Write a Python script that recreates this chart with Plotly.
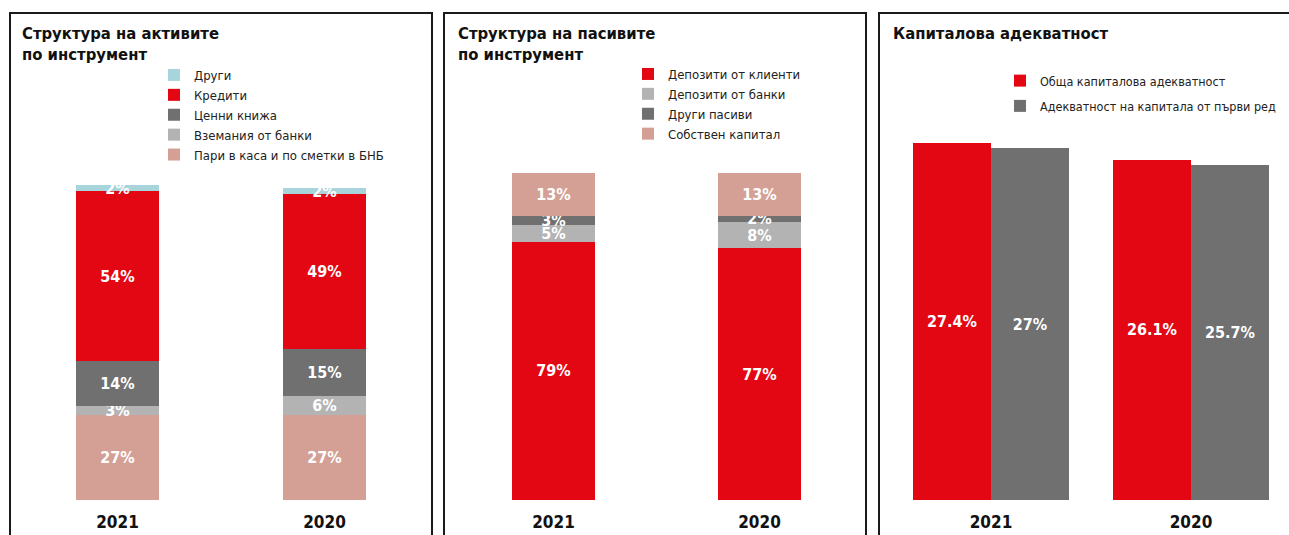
import plotly.graph_objects as go

# ---- data -------------------------------------------------------------
years = ["2021", "2020"]

# Assets structure by instrument (%), bottom to top of the stack
assets_cash_bnb = [27, 27]
assets_bank_receivables = [3, 6]
assets_securities = [14, 15]
assets_loans = [54, 49]
assets_other = [2, 2]

# Liabilities structure by instrument (%), bottom to top of the stack
liab_client_deposits = [79, 77]
liab_bank_deposits = [5, 8]
liab_other = [3, 2]
liab_equity = [13, 13]

# Capital adequacy (%)
cap_total = [27.4, 26.1]
cap_tier1 = [27, 25.7]

# ---- styling ----------------------------------------------------------
W, H = 1289, 535
RED = "#E30613"
DARK = "#707070"
LIGHT = "#B3B3B3"
SALMON = "#D4A095"
BLUE = "#A8D5DC"
FONT = "DejaVu Sans Condensed, Liberation Sans Narrow, DejaVu Sans, sans-serif"


def px(x):
    return x / W


def py(y):
    return 1 - y / H


label_font = dict(family=FONT, size=16, color="white", weight="bold")


def stacked_bar(name, values, color, xa, ya, legend, width):
    return go.Bar(
        x=years, y=values, name=name, marker=dict(color=color, line=dict(width=0)),
        xaxis=xa, yaxis=ya, legend=legend, width=width,
        texttemplate="%{y}%", textposition="inside", insidetextanchor="middle",
        textangle=0, constraintext="none", cliponaxis=False,
        insidetextfont=label_font, hoverinfo="skip",
    )


fig = go.Figure()

# Panel 1: assets
for name, vals, col in [
    ("Пари в каса и по сметки в БНБ", assets_cash_bnb, SALMON),
    ("Вземания от банки", assets_bank_receivables, LIGHT),
    ("Ценни книжа", assets_securities, DARK),
    ("Кредити", assets_loans, RED),
    ("Други", assets_other, BLUE),
]:
    fig.add_trace(stacked_bar(name, vals, col, "x", "y", "legend", 0.40))

# Panel 2: liabilities
for name, vals, col in [
    ("Депозити от клиенти", liab_client_deposits, RED),
    ("Депозити от банки", liab_bank_deposits, LIGHT),
    ("Други пасиви", liab_other, DARK),
    ("Собствен капитал", liab_equity, SALMON),
]:
    fig.add_trace(stacked_bar(name, vals, col, "x2", "y2", "legend2", 0.403))

# Panel 3: capital adequacy, side-by-side bars on overlaid y axes
for name, vals, col, ya, off in [
    ("Обща капиталова адекватност", cap_total, RED, "y3", -0.39),
    ("Адекватност на капитала от първи ред", cap_tier1, DARK, "y4", 0.0),
]:
    fig.add_trace(go.Bar(
        x=years, y=vals, name=name, marker=dict(color=col, line=dict(width=0)),
        xaxis="x3", yaxis=ya, legend="legend3", legendgroup=name,
        width=0.39, offset=off,
        texttemplate="%{y}%", textposition="inside", insidetextanchor="middle",
        textangle=0, constraintext="none", cliponaxis=False,
        insidetextfont=label_font, hoverinfo="skip",
    ))

xcommon = dict(type="category", showgrid=False, zeroline=False, showline=False,
               ticks="", ticklabelstandoff=10,
               tickfont=dict(family=FONT, size=17, color="#111", weight="bold"))
ycommon = dict(visible=False, showgrid=False, zeroline=False)

legend_common = dict(xanchor="left", yanchor="top", bgcolor="rgba(0,0,0,0)",
                     borderwidth=0, itemclick=False, itemdoubleclick=False)

fig.update_layout(
    width=W, height=H, autosize=False,
    margin=dict(l=0, r=0, t=0, b=0),
    paper_bgcolor="white", plot_bgcolor="white",
    barmode="stack",
    showlegend=True,
    font=dict(family=FONT, color="#111"),
    xaxis=dict(domain=[px(14), px(428)], range=[-0.5, 1.5], anchor="y", **xcommon),
    yaxis=dict(domain=[py(500), py(185)], range=[0, 100], anchor="x", **ycommon),
    xaxis2=dict(domain=[px(450.5), px(862.5)], range=[-0.5, 1.5], anchor="y2", **xcommon),
    yaxis2=dict(domain=[py(500), py(173)], range=[0, 100], anchor="x2", **ycommon),
    xaxis3=dict(domain=[px(891), 1], range=[-0.5, 1.49], anchor="y3", **xcommon),
    yaxis3=dict(domain=[py(500), py(109)], range=[0, 30], anchor="x3", **ycommon),
    yaxis4=dict(domain=[py(500), py(109)], range=[0, 30], anchor="x3",
                overlaying="y3", **ycommon),
    legend=dict(x=px(154), y=py(60), traceorder="reversed",
                font=dict(family=FONT, size=13, color="#222"), **legend_common),
    legend2=dict(x=px(628), y=py(59), traceorder="normal",
                 font=dict(family=FONT, size=13, color="#222"), **legend_common),
    legend3=dict(x=px(1000), y=py(66), traceorder="grouped", tracegroupgap=6,
                 font=dict(family=FONT, size=12.5, color="#222"), **legend_common),
)

# Panel frames (open at the bottom; the last one runs off the right edge)
frame_top = py(13)
for x0, x1 in [(10, 432), (444, 866)]:
    fig.add_shape(type="path", xref="paper", yref="paper",
                  path=f"M {px(x0)},0 L {px(x0)},{frame_top} L {px(x1)},{frame_top} L {px(x1)},0",
                  line=dict(color="#1a1a1a", width=2))
fig.add_shape(type="path", xref="paper", yref="paper",
              path=f"M {px(879)},0 L {px(879)},{frame_top} L 1,{frame_top}",
              line=dict(color="#1a1a1a", width=2))

# Panel titles
title_font = dict(family=FONT, size=16.5, color="#111", weight="bold")
for x, text in [
    (20, "Структура на активите<br>по инструмент"),
    (456, "Структура на пасивите<br>по инструмент"),
    (891, "Капиталова адекватност"),
]:
    fig.add_annotation(x=px(x), y=py(22), xref="paper", yref="paper",
                       xanchor="left", yanchor="top", align="left",
                       showarrow=False, text=text, font=title_font)

fig.write_html("out.html", config={"responsive": False})
